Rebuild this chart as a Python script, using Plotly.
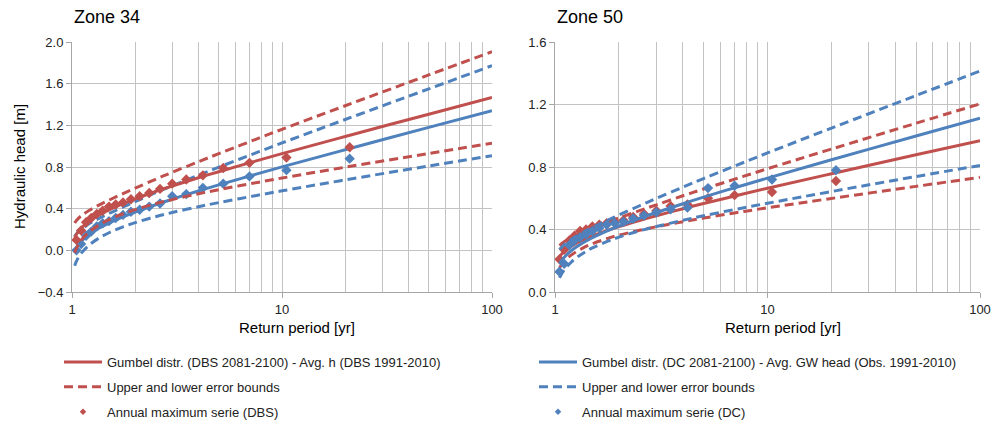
import plotly.graph_objects as go

RED = "#C0504D"
BLUE = "#4F81BD"
GRID = "#c3c3c3"
FONT = "Liberation Sans, Arial, sans-serif"

# ---------------- data ----------------
# Return periods for the fitted Gumbel curves
T_fit_34 = [1.03, 1.05, 1.1, 1.2, 1.35, 1.5, 1.75, 2, 2.5, 3, 4, 5, 7, 10, 20, 50, 100]
T_fit_50 = [1.05, 1.1, 1.2, 1.35, 1.5, 1.75, 2, 2.5, 3, 4, 5, 7, 10, 20, 50, 100]

# Zone 34
dbs_fit_34 = [0.120, 0.154, 0.209, 0.276, 0.341, 0.388, 0.448, 0.494, 0.565, 0.618, 0.697, 0.755, 0.840, 0.928, 1.093, 1.307, 1.468]
dbs_up_34 = [0.263, 0.287, 0.327, 0.380, 0.437, 0.482, 0.545, 0.597, 0.682, 0.749, 0.851, 0.928, 1.042, 1.162, 1.388, 1.684, 1.907]
dbs_lo_34 = [-0.023, 0.021, 0.091, 0.172, 0.245, 0.294, 0.351, 0.391, 0.448, 0.487, 0.543, 0.582, 0.638, 0.694, 0.798, 0.930, 1.029]
dc_fit_34 = [-0.008, 0.027, 0.082, 0.149, 0.214, 0.261, 0.321, 0.367, 0.438, 0.491, 0.570, 0.628, 0.713, 0.801, 0.966, 1.180, 1.341]
dc_up_34 = [0.132, 0.158, 0.198, 0.252, 0.308, 0.353, 0.416, 0.468, 0.553, 0.619, 0.721, 0.798, 0.912, 1.031, 1.256, 1.550, 1.773]
dc_lo_34 = [-0.148, -0.104, -0.034, 0.046, 0.120, 0.169, 0.226, 0.266, 0.323, 0.363, 0.419, 0.458, 0.514, 0.571, 0.676, 0.810, 0.909]

# Zone 50
dbs_fit_50 = [0.226, 0.257, 0.295, 0.332, 0.359, 0.393, 0.419, 0.458, 0.488, 0.533, 0.566, 0.614, 0.664, 0.757, 0.878, 0.969]
dbs_up_50 = [0.297, 0.320, 0.351, 0.383, 0.409, 0.445, 0.474, 0.521, 0.558, 0.616, 0.659, 0.722, 0.789, 0.915, 1.080, 1.204]
dbs_lo_50 = [0.155, 0.194, 0.239, 0.281, 0.309, 0.341, 0.364, 0.395, 0.418, 0.450, 0.473, 0.506, 0.539, 0.599, 0.676, 0.734]
dc_fit_50 = [0.181, 0.219, 0.267, 0.313, 0.347, 0.389, 0.422, 0.472, 0.509, 0.565, 0.607, 0.667, 0.729, 0.846, 0.998, 1.112]
dc_up_50 = [0.272, 0.300, 0.339, 0.379, 0.412, 0.456, 0.493, 0.552, 0.599, 0.671, 0.726, 0.806, 0.890, 1.049, 1.257, 1.414]
dc_lo_50 = [0.090, 0.138, 0.195, 0.247, 0.282, 0.322, 0.351, 0.392, 0.419, 0.459, 0.488, 0.528, 0.568, 0.643, 0.739, 0.810]

# Annual maximum series (plotting positions)
T_obs = [21, 10.5, 7, 5.25, 4.2, 3.5, 3.0, 2.625, 2.333, 2.1, 1.909, 1.75, 1.615, 1.5, 1.4, 1.3125, 1.235, 1.167, 1.105, 1.05]
dbs_obs_34 = [0.99, 0.89, 0.84, 0.79, 0.72, 0.68, 0.64, 0.59, 0.55, 0.52, 0.49, 0.46, 0.44, 0.42, 0.38, 0.35, 0.31, 0.27, 0.19, 0.10]
dc_obs_34 = [0.88, 0.77, 0.71, 0.64, 0.60, 0.54, 0.52, 0.45, 0.42, 0.39, 0.37, 0.34, 0.31, 0.28, 0.26, 0.23, 0.18, 0.14, 0.06, 0.00]
dbs_obs_50 = [0.71, 0.64, 0.62, 0.60, 0.56, 0.55, 0.52, 0.50, 0.48, 0.46, 0.45, 0.44, 0.43, 0.42, 0.40, 0.39, 0.36, 0.33, 0.27, 0.21]
dc_obs_50 = [0.78, 0.72, 0.68, 0.665, 0.54, 0.53, 0.51, 0.49, 0.47, 0.45, 0.44, 0.43, 0.41, 0.39, 0.37, 0.35, 0.33, 0.30, 0.18, 0.13]

names_dbs = ["Gumbel distr. (DBS 2081-2100) - Avg. h (DBS 1991-2010)",
             "Upper and lower error bounds",
             "Annual maximum serie (DBS)"]
names_dc = ["Gumbel distr. (DC 2081-2100) - Avg. GW head (Obs. 1991-2010)",
            "Upper and lower error bounds",
            "Annual maximum serie (DC)"]

fig = go.Figure()

LW = 3
DASH = "9px,5px"


def add_group(xa, ya, T_fit, fit, up, lo, obs, color, names, show, legend, group):
    fig.add_trace(go.Scatter(x=T_fit, y=fit, mode="lines", line=dict(color=color, width=LW, shape="spline"),
                             xaxis=xa, yaxis=ya, name=names[0], showlegend=show, legend=legend,
                             legendgroup=group + "a", hoverinfo="skip"))
    fig.add_trace(go.Scatter(x=T_fit, y=up, mode="lines", line=dict(color=color, width=LW, dash=DASH, shape="spline"),
                             xaxis=xa, yaxis=ya, name=names[1], showlegend=show, legend=legend,
                             legendgroup=group + "b", hoverinfo="skip"))
    fig.add_trace(go.Scatter(x=T_fit, y=lo, mode="lines", line=dict(color=color, width=LW, dash=DASH, shape="spline"),
                             xaxis=xa, yaxis=ya, name=names[1], showlegend=False, legend=legend,
                             legendgroup=group + "b", hoverinfo="skip"))
    fig.add_trace(go.Scatter(x=T_obs, y=obs, mode="markers", marker=dict(color=color, symbol="diamond", size=8),
                             xaxis=xa, yaxis=ya, name=names[2], showlegend=False, legend=legend,
                             legendgroup=group + "c", hoverinfo="skip"))
    if show:
        # legend entry for the markers (smaller symbol, as in the original legend)
        fig.add_trace(go.Scatter(x=[None], y=[None], mode="markers",
                                 marker=dict(color=color, symbol="diamond", size=5),
                                 xaxis=xa, yaxis=ya, name=names[2], showlegend=True, legend=legend,
                                 legendgroup=group + "c", hoverinfo="skip"))


# Zone 34 (left)
add_group("x", "y", T_fit_34, dc_fit_34, dc_up_34, dc_lo_34, dc_obs_34, BLUE, names_dc, False, "legend", "l_dc")
add_group("x", "y", T_fit_34, dbs_fit_34, dbs_up_34, dbs_lo_34, dbs_obs_34, RED, names_dbs, True, "legend", "l_dbs")
# Zone 50 (right)
add_group("x2", "y2", T_fit_50, dbs_fit_50, dbs_up_50, dbs_lo_50, dbs_obs_50, RED, names_dbs, False, "legend2", "r_dbs")
add_group("x2", "y2", T_fit_50, dc_fit_50, dc_up_50, dc_lo_50, dc_obs_50, BLUE, names_dc, True, "legend2", "r_dc")

W, H = 994, 425


def px(x):
    return x / W


def py(y):
    return 1 - y / H


ydom = [py(292), py(42)]

xcommon = dict(type="log", range=[0, 2], dtick=1, showgrid=True, gridcolor=GRID, gridwidth=1,
               minor=dict(dtick="D1", showgrid=True, gridcolor=GRID, gridwidth=1, ticks=""),
               showline=True, linecolor="#a6a6a6", linewidth=1, ticks="outside", ticklen=5,
               tickcolor="#a6a6a6", tickfont=dict(size=13, color="#222", family=FONT),
               zeroline=False, fixedrange=True)
ycommon = dict(showgrid=True, gridcolor=GRID, gridwidth=1, showline=True, linecolor="#a6a6a6",
               linewidth=1, ticks="outside", ticklen=5, tickcolor="#a6a6a6",
               tickfont=dict(size=13, color="#222", family=FONT), zeroline=False, tickformat=".1f",
               fixedrange=True)

legend_common = dict(xanchor="left", yanchor="top", font=dict(size=13, family=FONT, color="#222"),
                     bgcolor="rgba(0,0,0,0)", traceorder="grouped", tracegroupgap=5, itemwidth=38)

fig.update_layout(
    width=W, height=H,
    margin=dict(l=0, r=0, t=0, b=0, autoexpand=False),
    paper_bgcolor="white", plot_bgcolor="white",
    font=dict(family=FONT, size=13, color="#222"),
    xaxis=dict(domain=[px(72), px(492)], anchor="y", **xcommon),
    yaxis=dict(domain=ydom, anchor="x", range=[-0.4, 2.0], dtick=0.4, **ycommon),
    xaxis2=dict(domain=[px(555), px(980)], anchor="y2", **xcommon),
    yaxis2=dict(domain=ydom, anchor="x2", range=[0, 1.6], dtick=0.4, **ycommon),
    legend=dict(x=px(59), y=py(347), **legend_common),
    legend2=dict(x=px(534), y=py(347), **legend_common),
    showlegend=True,
)

annotations = [
    dict(text="Zone 34", x=px(72), y=py(17), xref="paper", yref="paper", xanchor="left", yanchor="middle",
         showarrow=False, font=dict(size=18, family=FONT, color="#000")),
    dict(text="Zone 50", x=px(555), y=py(17), xref="paper", yref="paper", xanchor="left", yanchor="middle",
         showarrow=False, font=dict(size=18, family=FONT, color="#000")),
    dict(text="Return period [yr]", x=px(297), y=py(327), xref="paper", yref="paper", xanchor="center",
         yanchor="middle", showarrow=False, font=dict(size=15, family=FONT, color="#000")),
    dict(text="Return period [yr]", x=px(783), y=py(327), xref="paper", yref="paper", xanchor="center",
         yanchor="middle", showarrow=False, font=dict(size=15, family=FONT, color="#000")),
    dict(text="Hydraulic head [m]", x=px(19), y=py(167), xref="paper", yref="paper", xanchor="center",
         yanchor="middle", textangle=-90, showarrow=False, font=dict(size=15, family=FONT, color="#000")),
]
fig.update_layout(annotations=annotations)

fig.write_html("out.html", config={"displayModeBar": False},
               post_script="document.body.style.margin='0';document.body.style.overflow='hidden';")
